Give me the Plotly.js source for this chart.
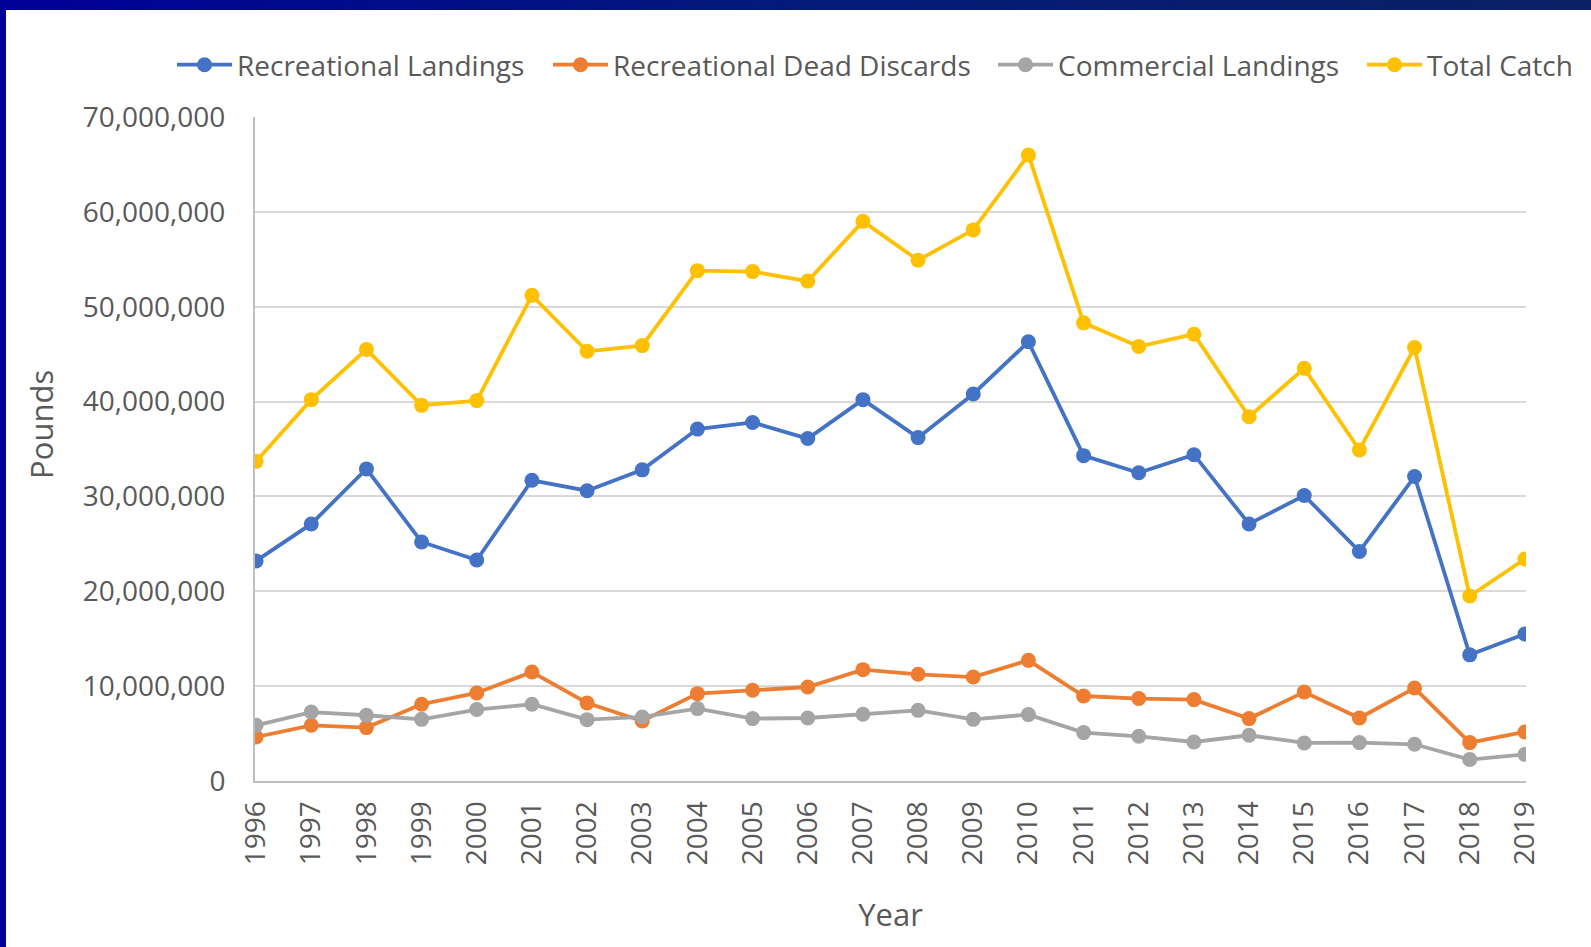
<!DOCTYPE html>
<html>
<head>
<meta charset="utf-8">
<script src="https://cdn.plot.ly/plotly-3.0.1.min.js"></script>
<style>
  html, body { margin: 0; padding: 0; background: #fff; }
  #chart { width: 1591px; height: 947px; }
  .band-top { position: absolute; left: 0; top: 0; width: 1591px; height: 10px;
    background: linear-gradient(90deg, #000099 0%, #031a7a 50%, #0a2163 100%); z-index: 5; }
  .band-left { position: absolute; left: 0; top: 0; width: 6px; height: 947px; background: #000099; z-index: 5; }
</style>
</head>
<body>
<div class="band-top"></div>
<div class="band-left"></div>
<div id="chart"></div>
<script>
// Catch by year, pounds
const years = ["1996","1997","1998","1999","2000","2001","2002","2003","2004","2005","2006","2007",
  "2008","2009","2010","2011","2012","2013","2014","2015","2016","2017","2018","2019"];

const recLandings = [23.2, 27.1, 32.9, 25.2, 23.3, 31.7, 30.6, 32.8, 37.1, 37.8, 36.1, 40.2,
  36.2, 40.8, 46.3, 34.3, 32.5, 34.4, 27.1, 30.1, 24.2, 32.1, 13.3, 15.5];
const recDeadDiscards = [4.64, 5.87, 5.63, 8.09, 9.28, 11.49, 8.22, 6.33, 9.21, 9.56, 9.91, 11.74,
  11.25, 10.96, 12.72, 8.96, 8.69, 8.58, 6.58, 9.38, 6.64, 9.80, 4.05, 5.17];
const commLandings = [5.87, 7.27, 6.93, 6.50, 7.53, 8.09, 6.47, 6.75, 7.63, 6.58, 6.64, 7.03,
  7.45, 6.50, 7.00, 5.10, 4.71, 4.11, 4.82, 4.01, 4.05, 3.87, 2.26, 2.81];
const totalCatch = [33.7, 40.2, 45.5, 39.6, 40.1, 51.2, 45.3, 45.9, 53.8, 53.7, 52.7, 59.0,
  54.9, 58.1, 66.0, 48.3, 45.8, 47.1, 38.4, 43.5, 34.9, 45.7, 19.5, 23.4];

const millions = arr => arr.map(v => v * 1e6);

const seriesNames = ["Recreational Landings", "Recreational Dead Discards", "Commercial Landings", "Total Catch"];
const seriesColors = ["#4472C4", "#ED7D31", "#A5A5A5", "#FFC000"];
const seriesValues = [recLandings, recDeadDiscards, commLandings, totalCatch];
const legendIds = ["legend", "legend2", "legend3", "legend4"];
// left edge of each legend entry (px, page coords)
const legendLeft = [172, 548, 993, 1362];

const font = "'Open Sans', 'Liberation Sans', sans-serif";
const textGray = "#595959";

const traces = seriesNames.map((name, i) => ({
  x: years,
  y: millions(seriesValues[i]),
  name: name,
  type: "scatter",
  mode: "lines+markers",
  legend: legendIds[i],
  line: { color: seriesColors[i], width: 3.8 },
  marker: { color: seriesColors[i], size: 15 },
}));

const layout = {
  width: 1591,
  height: 947,
  margin: { l: 255, r: 65, t: 117, b: 166 },
  paper_bgcolor: "#ffffff",
  plot_bgcolor: "#ffffff",
  font: { family: font, color: textGray, size: 27 },
  showlegend: true,
  xaxis: {
    type: "category",
    tickangle: -90,
    showgrid: false,
    showline: true,
    linecolor: "#bfbfbf",
    linewidth: 2,
    ticks: "",
    ticklabelstandoff: 7,
    tickfont: { size: 28, color: textGray },
    title: { text: "Year", font: { size: 31, color: textGray }, standoff: 40 },
    range: [-0.02, 23.02],
  },
  yaxis: {
    range: [0, 70e6],
    dtick: 10e6,
    tickformat: ",d",
    showgrid: true,
    gridcolor: "#d9d9d9",
    gridwidth: 2,
    zeroline: false,
    showline: true,
    linecolor: "#bfbfbf",
    linewidth: 2,
    ticks: "",
    ticklabelstandoff: 22,
    tickfont: { size: 28, color: textGray },
  },
  annotations: [{
    text: "Pounds",
    xref: "paper", yref: "paper",
    x: -0.168, y: 0.537,
    xanchor: "center", yanchor: "middle",
    textangle: -90,
    showarrow: false,
    font: { family: font, size: 31, color: textGray },
  }],
};

legendIds.forEach((id, i) => {
  layout[id] = {
    orientation: "h",
    xref: "container", yref: "container",
    x: legendLeft[i] / 1591, xanchor: "left",
    y: 1 - 65 / 947, yanchor: "middle",
    itemwidth: 55,
    bgcolor: "rgba(0,0,0,0)",
    font: { family: font, size: 28, color: textGray },
  };
});

Plotly.newPlot("chart", traces, layout, { displayModeBar: false });
</script>
</body>
</html>
